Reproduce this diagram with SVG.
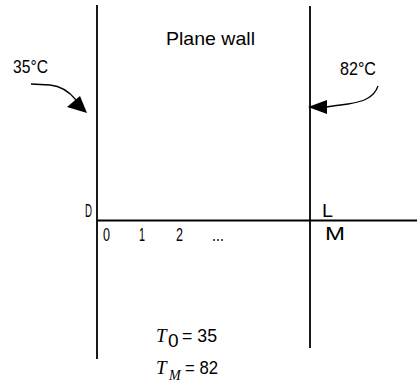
<svg xmlns="http://www.w3.org/2000/svg" width="417" height="387" viewBox="0 0 417 387">
<defs>
<style>
.ln{stroke:#000;stroke-width:1.8;fill:none}
.cv{stroke:#000;stroke-width:1.3;fill:none}
.t{font-family:"Liberation Sans",Arial,sans-serif;font-size:19px;fill:#000}
.it{font-family:"Liberation Serif","Times New Roman",serif;font-style:italic;fill:#000}
</style>
</defs>
<rect width="417" height="387" fill="#fff"/>
<g id="connectors">
<line class="ln" x1="97" y1="5" x2="97" y2="359"/>
<line class="ln" x1="310" y1="6" x2="310" y2="348"/>
<line class="ln" x1="97" y1="220.5" x2="417" y2="220.5"/>
<path class="cv" d="M31 84 L50 85 C60 86 68 90 76 100"/>
<polygon points="87,113 67,107 80,96" fill="#000"/>
<path class="cv" d="M378 86 C374 98 362 102 348 104 C340 105 332 106 326 107"/>
<polygon points="308,107 327,100 327,114" fill="#000"/>
</g>
<g id="title"><text class="t" x="166" y="45" textLength="89" lengthAdjust="spacingAndGlyphs">Plane wall</text></g>
<g id="left-temp"><text class="t" x="13" y="73" textLength="35" lengthAdjust="spacingAndGlyphs">35°C</text></g>
<g id="right-temp"><text class="t" x="340" y="75" textLength="36" lengthAdjust="spacingAndGlyphs">82°C</text></g>
<g id="label-D"><text class="t" x="85" y="217" textLength="7" lengthAdjust="spacingAndGlyphs">D</text></g>
<g id="label-L"><text class="t" x="322" y="217" textLength="11" lengthAdjust="spacingAndGlyphs">L</text></g>
<g id="index-labels">
<text class="t" x="103" y="241" textLength="7" lengthAdjust="spacingAndGlyphs">0</text>
<text class="t" x="139" y="241" textLength="6" lengthAdjust="spacingAndGlyphs">1</text>
<text class="t" x="176" y="241" textLength="7" lengthAdjust="spacingAndGlyphs">2</text>
<text class="t" x="212" y="241" textLength="12" lengthAdjust="spacingAndGlyphs">...</text>
<text class="t" x="325" y="240" textLength="20" lengthAdjust="spacingAndGlyphs">M</text>
</g>
<g id="formula-T0">
<text class="it" x="156" y="342" font-size="19">T</text>
<text class="t" x="168" y="347" font-size="13">0</text>
<text class="t" x="182" y="342" textLength="35" lengthAdjust="spacingAndGlyphs">= 35</text>
</g>
<g id="formula-TM">
<text class="it" x="156" y="374" font-size="19">T</text>
<text class="it" x="169" y="380" font-size="14">M</text>
<text class="t" x="185" y="374" textLength="33" lengthAdjust="spacingAndGlyphs">= 82</text>
</g>
</svg>
